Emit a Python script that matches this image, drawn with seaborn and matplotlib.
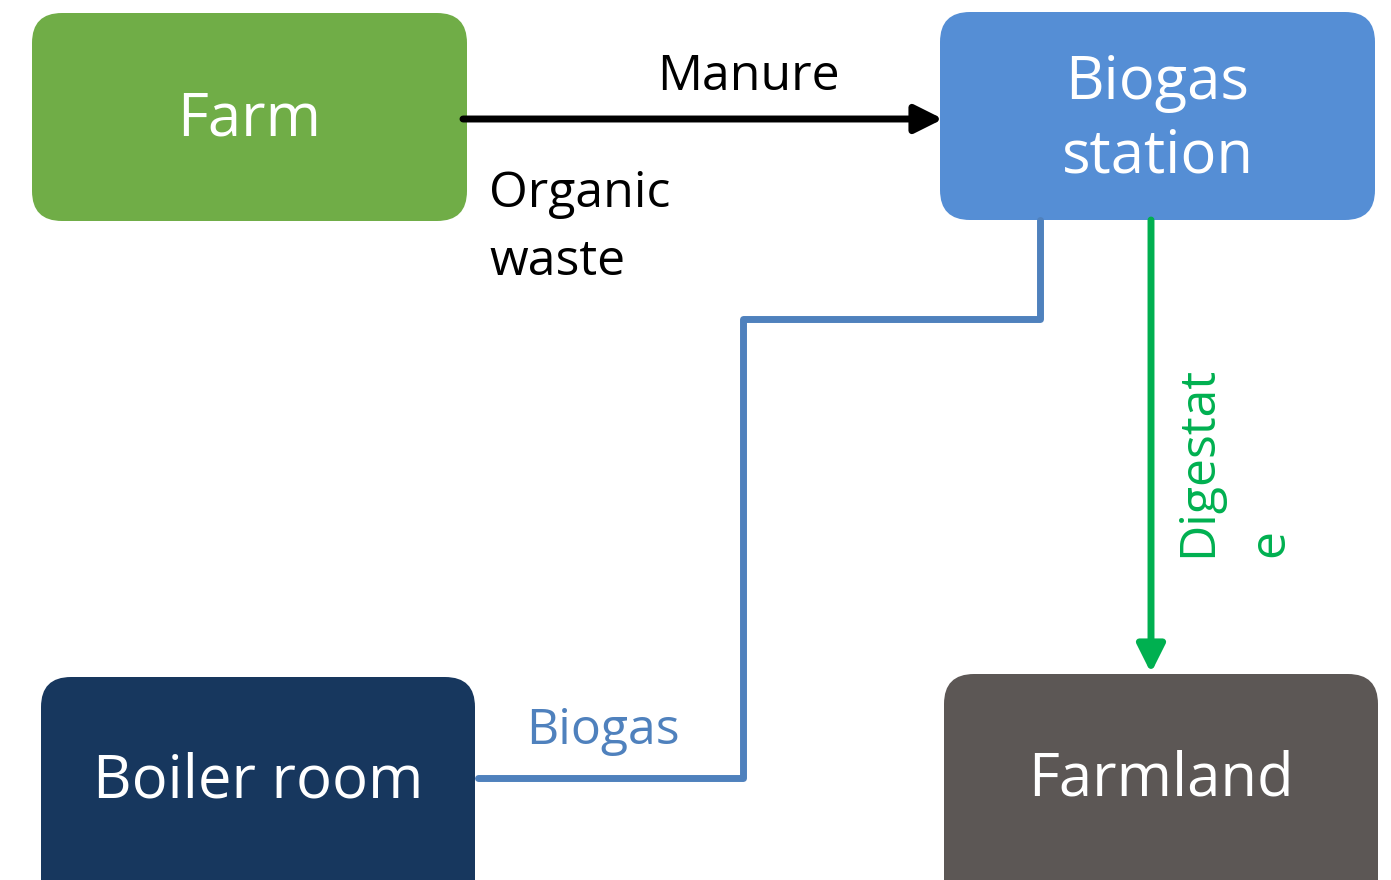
import matplotlib
matplotlib.use("Agg")
import matplotlib.pyplot as plt
import seaborn as sns
import pandas as pd
from matplotlib.patches import FancyBboxPatch

# diagram content
NODES = ["Farm", "Biogas\nstation", "Boiler room", "Farmland"]
NODE_COLORS = ["#70AD47", "#558ED5", "#17375E", "#5C5755"]
FLOWS = ["Manure", "Organic\nwaste", "Biogas", "Digestat\ne"]
FLOW_COLORS = ["black", "black", "#4F81BD", "#00B050"]

# layout in pixel coordinates (x0, y0, x1, y1) and label centre y
BOXES = {
    "Farm": (32, 13, 467, 221, 119),
    "Biogas\nstation": (940, 12, 1375, 220, 120),
    "Boiler room": (41, 677, 475, 910, 781),
    "Farmland": (944, 674, 1378, 910, 779),
}
FONT = ["Open Sans", "DejaVu Sans"]
HEAD = "-|>,head_length=1.4,head_width=0.7"


def draw_box(ax, name, color):
    x0, y0, x1, y1, cy = BOXES[name]
    r = 30
    box = FancyBboxPatch((x0 + r, y0 + r), (x1 - x0) - 2 * r, (y1 - y0) - 2 * r,
                         boxstyle=f"round,pad={r}", fc=color, ec="none")
    ax.add_patch(box)
    ax.text((x0 + x1) / 2, cy, name, color="white", fontsize=43, family=FONT,
            ha="center", va="center", linespacing=1.3)


def main():
    sns.set_theme(style="white")
    plt.rcParams["font.family"] = FONT

    fig = plt.figure(figsize=(13.91, 8.80), dpi=100)
    ax = fig.add_axes([0, 0, 1, 1])
    ax.set_xlim(0, 1391)
    ax.set_ylim(880, 0)
    ax.axis("off")

    for name, color in zip(NODES, NODE_COLORS):
        draw_box(ax, name, color)

    # Farm -> Biogas station
    ax.annotate("", xy=(943, 119), xytext=(463, 119),
                arrowprops=dict(arrowstyle=HEAD, color="black", lw=5,
                                shrinkA=0, shrinkB=0))
    ax.text(748, 77, FLOWS[0], color=FLOW_COLORS[0], fontsize=36, family=FONT,
            ha="center", va="center")
    ax.text(489, 228, FLOWS[1], color=FLOW_COLORS[1], fontsize=36, family=FONT,
            ha="left", va="center", linespacing=1.5)

    # Biogas station -> Boiler room elbow line
    path = pd.DataFrame({"x": [1040, 1040, 743, 743, 478],
                         "y": [220, 319, 319, 778, 778]})
    sns.lineplot(data=path, x="x", y="y", sort=False, estimator=None,
                 color=FLOW_COLORS[2], lw=5, ax=ax)
    ax.text(603, 731, FLOWS[2], color=FLOW_COLORS[2], fontsize=36, family=FONT,
            ha="center", va="center")

    # Biogas station -> Farmland
    ax.annotate("", xy=(1151, 673), xytext=(1151, 220),
                arrowprops=dict(arrowstyle=HEAD, color=FLOW_COLORS[3], lw=5,
                                shrinkA=0, shrinkB=0))
    ax.text(1234, 557, FLOWS[3], color=FLOW_COLORS[3], fontsize=36, family=FONT,
            rotation=90, ha="center", va="bottom", multialignment="left",
            linespacing=1.6)

    ax.set_xlabel("")
    ax.set_ylabel("")
    fig.savefig("out.png", dpi=100)


if __name__ == "__main__":
    main()
